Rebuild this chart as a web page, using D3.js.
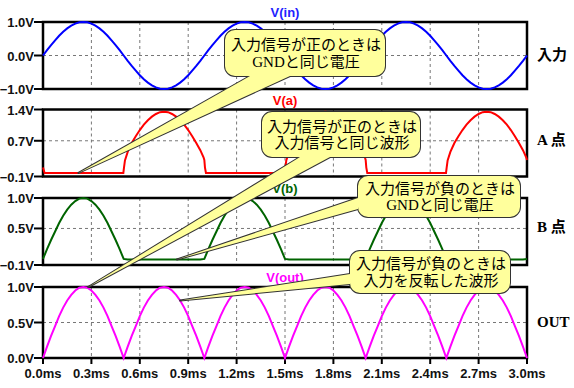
<!DOCTYPE html>
<html>
<head>
<script src="https://cdn.jsdelivr.net/npm/d3@7"></script>
<style>
    body{margin:0;background:#fff;}
    svg{display:block;font-family:"Liberation Sans",Arial,sans-serif;}
</style>
</head>
<body>
<div id="chart"></div>
<script>
    // simulation samples, every 0.025 ms from 0 to 3 ms
    var sampleStep = 0.025

    var vin = [
        0,0.16,0.31,0.45,0.59,0.71,0.81,0.89,0.95,0.99,1,0.99,0.95,0.89,0.81,0.71,0.59,0.45,0.31,0.16,0,
        -0.16,-0.31,-0.45,-0.59,-0.71,-0.81,-0.89,-0.95,-0.99,-1,-0.99,-0.95,-0.89,-0.81,-0.71,-0.59,-0.45,-0.31,-0.16,
        0,0.16,0.31,0.45,0.59,0.71,0.81,0.89,0.95,0.99,1,0.99,0.95,0.89,0.81,0.71,0.59,0.45,0.31,0.16,0,
        -0.16,-0.31,-0.45,-0.59,-0.71,-0.81,-0.89,-0.95,-0.99,-1,-0.99,-0.95,-0.89,-0.81,-0.71,-0.59,-0.45,-0.31,-0.16,
        0,0.16,0.31,0.45,0.59,0.71,0.81,0.89,0.95,0.99,1,0.99,0.95,0.89,0.81,0.71,0.59,0.45,0.31,0.16,0,
        -0.16,-0.31,-0.45,-0.59,-0.71,-0.81,-0.89,-0.95,-0.99,-1,-0.99,-0.95,-0.89,-0.81,-0.71,-0.59,-0.45,-0.31,-0.16,
        0
    ]

    var vb = [
        0,0.16,0.31,0.45,0.59,0.71,0.81,0.89,0.95,0.99,1,0.99,0.95,0.89,0.81,0.71,0.59,0.45,0.31,0.16,0,
        -0.01,-0.01,-0.01,-0.01,-0.01,-0.01,-0.01,-0.01,-0.01,-0.01,-0.01,-0.01,-0.01,-0.01,-0.01,-0.01,-0.01,-0.01,-0.01,
        0,0.16,0.31,0.45,0.59,0.71,0.81,0.89,0.95,0.99,1,0.99,0.95,0.89,0.81,0.71,0.59,0.45,0.31,0.16,0,
        -0.01,-0.01,-0.01,-0.01,-0.01,-0.01,-0.01,-0.01,-0.01,-0.01,-0.01,-0.01,-0.01,-0.01,-0.01,-0.01,-0.01,-0.01,-0.01,
        0,0.16,0.31,0.45,0.59,0.71,0.81,0.89,0.95,0.99,1,0.99,0.95,0.89,0.81,0.71,0.59,0.45,0.31,0.16,0,
        -0.01,-0.01,-0.01,-0.01,-0.01,-0.01,-0.01,-0.01,-0.01,-0.01,-0.01,-0.01,-0.01,-0.01,-0.01,-0.01,-0.01,-0.01,-0.01,
        0
    ]

    var vout = [
        0,0.16,0.31,0.45,0.59,0.71,0.81,0.89,0.95,0.99,1,0.99,0.95,0.89,0.81,0.71,0.59,0.45,0.31,0.16,0,
        0.16,0.31,0.45,0.59,0.71,0.81,0.89,0.95,0.99,1,0.99,0.95,0.89,0.81,0.71,0.59,0.45,0.31,0.16,
        0,0.16,0.31,0.45,0.59,0.71,0.81,0.89,0.95,0.99,1,0.99,0.95,0.89,0.81,0.71,0.59,0.45,0.31,0.16,0,
        0.16,0.31,0.45,0.59,0.71,0.81,0.89,0.95,0.99,1,0.99,0.95,0.89,0.81,0.71,0.59,0.45,0.31,0.16,
        0,0.16,0.31,0.45,0.59,0.71,0.81,0.89,0.95,0.99,1,0.99,0.95,0.89,0.81,0.71,0.59,0.45,0.31,0.16,0,
        0.16,0.31,0.45,0.59,0.71,0.81,0.89,0.95,0.99,1,0.99,0.95,0.89,0.81,0.71,0.59,0.45,0.31,0.16,
        0
    ]

    // V(a) has fast edges, so it keeps its own time points (ms)
    var vaTime = [
        0,0.01,0.498,0.502,0.508,0.525,0.55,0.575,0.6,0.625,0.65,0.675,0.7,0.725,0.75,0.775,0.8,0.825,0.85,0.875,0.9,0.925,0.95,0.975,0.995,1.0,1.004,1.01,
        1.498,1.502,1.508,1.525,1.55,1.575,1.6,1.625,1.65,1.675,1.7,1.725,1.75,1.775,1.8,1.825,1.85,1.875,1.9,1.925,1.95,1.975,1.995,2.0,2.004,2.01,
        2.498,2.502,2.508,2.525,2.55,2.575,2.6,2.625,2.65,2.675,2.7,2.725,2.75,2.775,2.8,2.825,2.85,2.875,2.9,2.925,2.95,2.975,2.995,3.0
    ]
    var va = [
        0.10,-0.02,-0.02,0.10,0.26,0.45,0.65,0.80,0.94,1.06,1.16,1.24,1.30,1.34,1.35,1.34,1.30,1.24,1.16,1.06,0.94,0.80,0.65,0.49,0.33,0.27,0.10,-0.02,
        -0.02,0.10,0.26,0.45,0.65,0.80,0.94,1.06,1.16,1.24,1.30,1.34,1.35,1.34,1.30,1.24,1.16,1.06,0.94,0.80,0.65,0.49,0.33,0.27,0.10,-0.02,
        -0.02,0.10,0.26,0.45,0.65,0.80,0.94,1.06,1.16,1.24,1.30,1.34,1.35,1.34,1.30,1.24,1.16,1.06,0.94,0.80,0.65,0.49,0.33,0.27
    ]

    var timeTicks = [0,0.3,0.6,0.9,1.2,1.5,1.8,2.1,2.4,2.7,3.0]
    var vinTicks = [-1.0,0.0,1.0]
    var vaTicks = [-0.1,0.7,1.4]
    var vbTicks = [-0.1,0.5,1.0]
    var voutTicks = [0.0,0.5,1.0]

    var traceNames = ["V(in)","V(a)","V(b)","V(out)"]
    var nodeNames = ["入力","A 点","B 点","OUT"]

    var calloutText = [
        ["入力信号が正のときは","GNDと同じ電圧"],
        ["入力信号が正のときは","入力信号と同じ波形"],
        ["入力信号が負のときは","GNDと同じ電圧"],
        ["入力信号が負のときは","入力を反転した波形"]
    ]
    // where each callout points: panel index, time (ms), volts
    var calloutTarget = [
        {panel:1, t:0.22, v:-0.02},
        {panel:3, t:0.28, v:1.0},
        {panel:2, t:0.83, v:-0.01},
        {panel:3, t:0.85, v:0.81}
    ]

    // ---- layout ----
    var width = 574, height = 388
    var left = 43, right = 527
    var panelTop = [22,109.5,198,287]
    var panelBottom = [89,176.5,265,358]
    var traceColors = ["#0000ff","#ff0000","#006400","#ff00ff"]
    var titleColors = ["#2222ff","#ff0000","#006400","#ff00ff"]
    var calloutBox = [
        {x:225, y:30, w:160, h:46, base:[[250,76],[290,76]]},
        {x:262, y:112, w:158, h:45, base:[[300,157],[330,157]]},
        {x:358, y:176, w:162, h:41, base:[[358,198],[358,209]]},
        {x:350, y:251, w:160, h:42, base:[[350,274],[350,284]]}
    ]

    var svg = d3.select("#chart")
        .append("svg")
        .attr("width",width)
        .attr("height",height)

    var xScale = d3.scaleLinear().domain([0,3]).range([left,right])
    var tickSets = [vinTicks,vaTicks,vbTicks,voutTicks]
    var yScales = tickSets.map(function(t,i){
        return d3.scaleLinear().domain(d3.extent(t)).range([panelBottom[i],panelTop[i]])
    })
    var fmtV = d3.format(".1f")

    // panels
    tickSets.forEach(function(ticks,i){
        var y = yScales[i]
        var g = svg.append("g")

        // grid
        g.selectAll(".vgrid")
            .data(timeTicks.slice(1,-1))
            .enter()
            .append("line")
            .attr("x1",function(d){return xScale(d)})
            .attr("x2",function(d){return xScale(d)})
            .attr("y1",panelTop[i])
            .attr("y2",panelBottom[i])
            .attr("stroke","#777")
            .attr("stroke-dasharray","3,3")
        g.append("line")
            .attr("x1",left).attr("x2",right)
            .attr("y1",y(ticks[1])).attr("y2",y(ticks[1]))
            .attr("stroke","#777")
            .attr("stroke-dasharray","3,3")

        // frame
        g.append("rect")
            .attr("x",left).attr("y",panelTop[i])
            .attr("width",right-left).attr("height",panelBottom[i]-panelTop[i])
            .attr("fill","none")
            .attr("stroke","#000")
            .attr("stroke-width",2.5)

        // y ticks
        g.selectAll(".ytick")
            .data(ticks)
            .enter()
            .append("line")
            .attr("x1",left-9).attr("x2",left)
            .attr("y1",function(d){return y(d)})
            .attr("y2",function(d){return y(d)})
            .attr("stroke","#000")
            .attr("stroke-width",2)
        g.selectAll(".ylabel")
            .data(ticks)
            .enter()
            .append("text")
            .attr("x",left-9)
            .attr("y",function(d){return y(d)+0.5})
            .attr("text-anchor","end")
            .attr("dominant-baseline","central")
            .attr("font-size",13)
            .attr("font-weight","bold")
            .attr("fill","#111")
            .text(function(d){return fmtV(d)+"V"})

        // trace title
        g.append("text")
            .attr("x",(left+right)/2)
            .attr("y",panelTop[i]-5)
            .attr("text-anchor","middle")
            .attr("font-size",13)
            .attr("font-weight","bold")
            .attr("fill",titleColors[i])
            .text(traceNames[i])

        // node name on the right
        g.append("text")
            .attr("x",537)
            .attr("y",y(ticks[1])-1)
            .attr("dominant-baseline","central")
            .attr("font-size",15)
            .attr("font-weight","bold")
            .attr("font-family","'Liberation Serif','Noto Sans CJK JP',serif")
            .attr("fill","#000")
            .text(nodeNames[i])
    })

    // x axis ticks under the last panel
    var xb = panelBottom[3]
    svg.selectAll(".xtick")
        .data(timeTicks)
        .enter()
        .append("line")
        .attr("x1",function(d){return xScale(d)})
        .attr("x2",function(d){return xScale(d)})
        .attr("y1",xb).attr("y2",xb+6)
        .attr("stroke","#000")
        .attr("stroke-width",2)
    svg.selectAll(".xlabel")
        .data(timeTicks)
        .enter()
        .append("text")
        .attr("x",function(d){return xScale(d)})
        .attr("y",378)
        .attr("text-anchor","middle")
        .attr("font-size",13)
        .attr("font-weight","bold")
        .attr("fill","#111")
        .text(function(d){return fmtV(d)+"ms"})

    // traces
    var series = [vin,null,vb,vout]
    series.forEach(function(s,i){
        if(!s) return
        var line = d3.line()
            .x(function(d,j){return xScale(j*sampleStep)})
            .y(function(d){return yScales[i](d)})
        svg.append("path")
            .attr("d",line(s))
            .attr("fill","none")
            .attr("stroke",traceColors[i])
            .attr("stroke-width",2)
    })
    var vaLine = d3.line()
        .x(function(d,j){return xScale(vaTime[j])})
        .y(function(d){return yScales[1](d)})
    svg.append("path")
        .attr("d",vaLine(va))
        .attr("fill","none")
        .attr("stroke",traceColors[1])
        .attr("stroke-width",2)

    // callouts
    calloutBox.forEach(function(b,i){
        var tg = calloutTarget[i]
        var tip = [xScale(tg.t), yScales[tg.panel](tg.v)]
        var wedge = d3.line()([b.base[0],tip,b.base[1]])+"Z"
        var g = svg.append("g")

        // outline first, then fill over it so only the outer edge shows
        g.append("path").attr("d",wedge)
            .attr("fill","none").attr("stroke","#333").attr("stroke-width",2)
            .attr("stroke-linejoin","round")
        g.append("rect")
            .attr("x",b.x).attr("y",b.y).attr("width",b.w).attr("height",b.h)
            .attr("rx",10)
            .attr("fill","none").attr("stroke","#333").attr("stroke-width",2)
        g.append("path").attr("d",wedge).attr("fill","#ffff9c")
        g.append("rect")
            .attr("x",b.x).attr("y",b.y).attr("width",b.w).attr("height",b.h)
            .attr("rx",10)
            .attr("fill","#ffff9c")

        // both lines in one text element
        var cy = b.y+b.h/2
        var t = g.append("text")
            .attr("text-anchor","middle")
            .attr("font-size",15)
            .attr("font-family","'Noto Sans CJK JP',sans-serif")
            .attr("fill","#000")
        calloutText[i].forEach(function(txt,k){
            var first = true
            txt.split(/([A-Z]+)/).forEach(function(part){
                if(part=="") return
                var sp = t.append("tspan").text(part)
                if(first){
                    sp.attr("x",b.x+b.w/2+1).attr("y",cy+(k==0?-8.3:8.3)+5.5)
                    first = false
                }
                if(/^[A-Z]+$/.test(part)) sp.attr("font-family","'Liberation Serif',serif")
            })
        })
    })
</script>
</body>
</html>
